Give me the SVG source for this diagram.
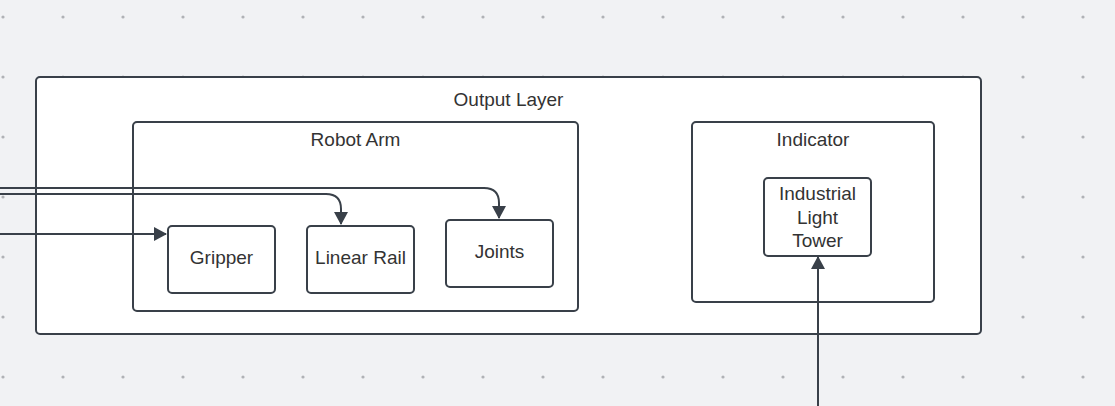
<svg xmlns="http://www.w3.org/2000/svg" width="1115" height="406" viewBox="0 0 1115 406">
<defs>
<pattern id="dots" x="0" y="0" width="60" height="60" patternUnits="userSpaceOnUse">
<circle cx="3" cy="17" r="1.6" fill="#b0b2b6"/>
</pattern>
<marker id="arr" viewBox="0 0 13 14" refX="12" refY="7" markerWidth="13" markerHeight="14" markerUnits="userSpaceOnUse" orient="auto">
<path d="M0,0 L13,7 L0,14 Z" fill="#394049"/>
</marker>
</defs>
<style>
.box{fill:#ffffff;stroke:#394049;stroke-width:2}
.lbl{font-family:"Liberation Sans",Arial,sans-serif;font-size:19px;fill:#333333;text-anchor:middle}
.con{fill:none;stroke:#394049;stroke-width:2}
</style>
<rect width="1115" height="406" fill="#f1f2f4"/>
<rect width="1115" height="406" fill="url(#dots)"/>
<g id="output-layer">
<rect class="box" x="36" y="77" width="945" height="257" rx="4"/>
<text class="lbl" x="508.5" y="105.5">Output Layer</text>
</g>
<g id="robot-arm">
<rect class="box" x="133" y="122" width="445" height="189" rx="4"/>
<text class="lbl" x="355.5" y="146">Robot Arm</text>
</g>
<g id="indicator">
<rect class="box" x="692" y="122" width="242" height="180" rx="4"/>
<text class="lbl" x="813" y="146">Indicator</text>
</g>
<g id="gripper">
<rect class="box" x="168" y="226" width="107" height="67" rx="4"/>
<text class="lbl" x="221.5" y="264">Gripper</text>
</g>
<g id="linear-rail">
<rect class="box" x="307" y="226" width="107" height="67" rx="4"/>
<text class="lbl" x="360.5" y="264">Linear Rail</text>
</g>
<g id="joints">
<rect class="box" x="446" y="220" width="107" height="67" rx="4"/>
<text class="lbl" x="499.5" y="258">Joints</text>
</g>
<g id="light-tower">
<rect class="box" x="764" y="178" width="107" height="78" rx="4"/>
<text class="lbl" x="817.5" y="200">Industrial</text>
<text class="lbl" x="817.5" y="223.5">Light</text>
<text class="lbl" x="817.5" y="247">Tower</text>
</g>
<g id="connectors">
<path class="con" d="M0,188 L484,188 Q499,188 499,203 L499,218" marker-end="url(#arr)"/>
<path class="con" d="M0,194 L326,194 Q341,194 341,209 L341,224" marker-end="url(#arr)"/>
<path class="con" d="M0,234 L166,234" marker-end="url(#arr)"/>
<path class="con" d="M818,406 L818,257" marker-end="url(#arr)"/>
</g>
</svg>
